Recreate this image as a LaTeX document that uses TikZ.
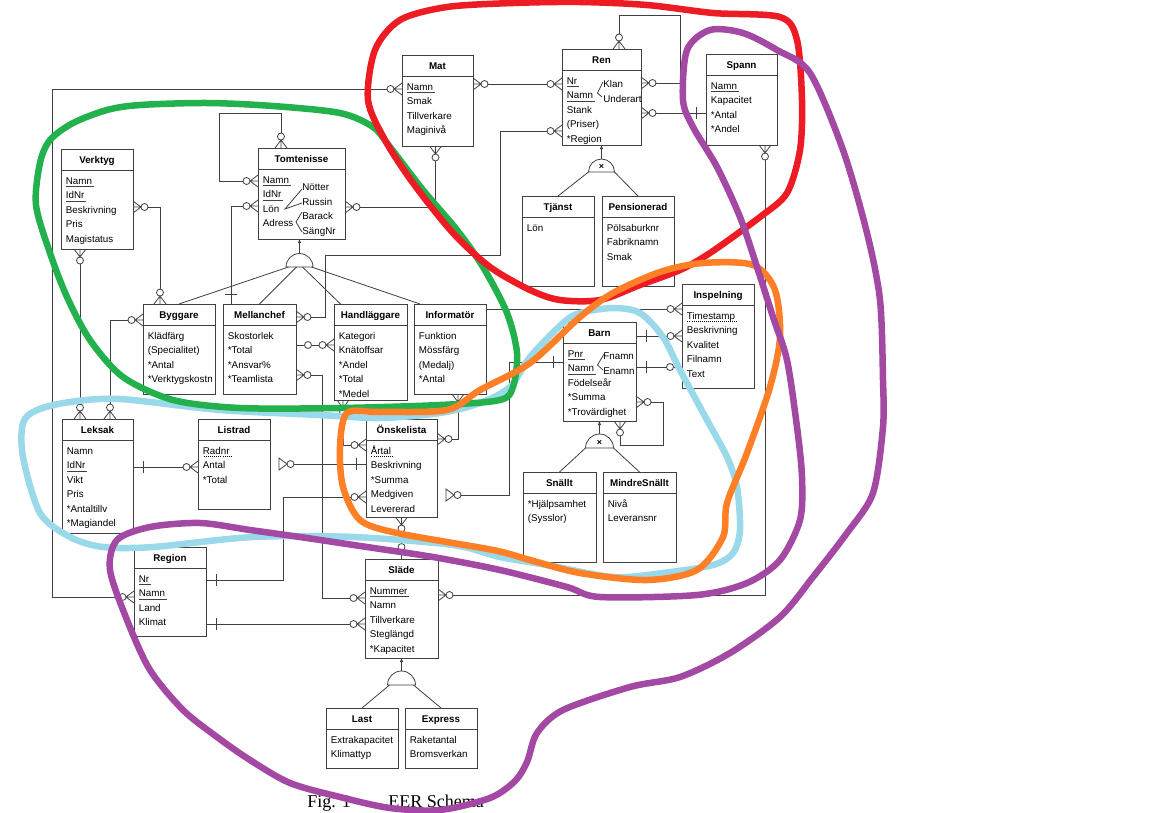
\documentclass[tikz,border=0pt]{standalone}
\usepackage{fontspec}
\setmainfont{Liberation Sans}
\newfontfamily\capfont{Liberation Serif}
\usetikzlibrary{arrows.meta}

\definecolor{lcol}{RGB}{64,64,64}
\definecolor{pred}{RGB}{237,28,36}
\definecolor{pgreen}{RGB}{34,177,76}
\definecolor{pblue}{RGB}{153,217,234}
\definecolor{porange}{RGB}{255,127,39}
\definecolor{ppurple}{RGB}{163,73,164}

\newsavebox\ulbox
\newcommand\ulin[1]{\sbox\ulbox{#1}\rlap{\color{lcol}\rule[-2.6pt]{\dimexpr\wd\ulbox+2pt\relax}{0.7pt}}\usebox\ulbox}
\newcommand\dotul[1]{\sbox\ulbox{#1}\rlap{\raisebox{-2.6pt}{\hbox to \dimexpr\wd\ulbox+3pt\relax{\xleaders\hbox to 2pt{\hss\rule{1pt}{0.6pt}\hss}\hfill}}}\usebox\ulbox}

\newcommand\entity[7]{%
        \node[ebox, minimum width=#4pt, minimum height=#5pt] (#1) at (#2,#3) {};
        \draw[con] ([yshift=-21pt]#1.north west) -- ([yshift=-21pt]#1.north east);
        \node[etitle] (#1-t) at ([yshift=-10.5pt]#1.north) {#6};
        \node[eattr] (#1-a) at ([xshift=4.5pt,yshift=-25pt]#1.north west) {\rule{0pt}{10pt}#7};
}

\pgfdeclarearrow{
  name = many,
  setup code = {
    \pgfarrowssettipend{0pt}
    \pgfarrowssetbackend{-15pt}
    \pgfarrowssetlineend{-15pt}
    \pgfarrowsupperhullpoint{0pt}{6pt}
    \pgfarrowsupperhullpoint{-15pt}{3.5pt}
  },
  drawing code = {
    \pgfpathmoveto{\pgfqpoint{0pt}{6pt}}
    \pgfpathlineto{\pgfqpoint{-8pt}{0pt}}
    \pgfpathlineto{\pgfqpoint{0pt}{-6pt}}
    \pgfpathmoveto{\pgfqpoint{0pt}{0pt}}
    \pgfpathlineto{\pgfqpoint{-8pt}{0pt}}
    \pgfusepathqstroke
    \pgfpathcircle{\pgfqpoint{-11.5pt}{0pt}}{3.5pt}
    \pgfsetfillcolor{white}
    \pgfusepathqfillstroke
  }
}
\pgfdeclarearrow{
  name = one,
  setup code = {
    \pgfarrowssettipend{0pt}
    \pgfarrowssetbackend{-10pt}
    \pgfarrowssetlineend{0pt}
    \pgfarrowsupperhullpoint{0pt}{6pt}
    \pgfarrowsupperhullpoint{-10pt}{6pt}
  },
  drawing code = {
    \pgfpathmoveto{\pgfqpoint{-10pt}{6pt}}
    \pgfpathlineto{\pgfqpoint{-10pt}{-6pt}}
    \pgfusepathqstroke
  }
}
\pgfdeclarearrow{
  name = zero,
  setup code = {
    \pgfarrowssettipend{0pt}
    \pgfarrowssetbackend{-15.5pt}
    \pgfarrowssetlineend{-15.5pt}
    \pgfarrowsupperhullpoint{0pt}{3.5pt}
    \pgfarrowsupperhullpoint{-15.5pt}{3.5pt}
  },
  drawing code = {
    \pgfpathmoveto{\pgfqpoint{0pt}{0pt}}
    \pgfpathlineto{\pgfqpoint{-8.5pt}{0pt}}
    \pgfusepathqstroke
    \pgfpathcircle{\pgfqpoint{-12pt}{0pt}}{3.5pt}
    \pgfsetfillcolor{white}
    \pgfusepathqfillstroke
  }
}
\pgfdeclarearrow{
  name = tri,
  setup code = {
    \pgfarrowssettipend{0pt}
    \pgfarrowssetbackend{-24pt}
    \pgfarrowssetlineend{-24pt}
    \pgfarrowsupperhullpoint{-9pt}{6pt}
    \pgfarrowsupperhullpoint{-24pt}{3.5pt}
  },
  drawing code = {
    \pgfpathmoveto{\pgfqpoint{-9pt}{6pt}}
    \pgfpathlineto{\pgfqpoint{-9pt}{-6pt}}
    \pgfpathlineto{\pgfqpoint{-17pt}{0pt}}
    \pgfpathclose
    \pgfusepathqstroke
    \pgfpathcircle{\pgfqpoint{-20.5pt}{0pt}}{3.5pt}
    \pgfsetfillcolor{white}
    \pgfusepathqfillstroke
  }
}

\begin{document}
\begin{tikzpicture}[x=1pt, y=-1pt, line width=0.8pt, >={Latex[length=4pt,width=3.5pt]},
        ebox/.style={draw=lcol, fill=white, anchor=north west, inner sep=0pt, outer sep=0pt},
        etitle/.style={font=\bfseries\fontsize{9.8}{12}\selectfont, inner sep=0pt, text height=7pt, text depth=0pt},
        eattr/.style={font=\fontsize{9.8}{14.5}\selectfont, anchor=north west, inner sep=0pt, align=left},
        con/.style={draw=lcol},
        isa/.style={draw=lcol, fill=white},
        hl/.style={line width=6.5pt, line cap=round, line join=round}]
        \fill[white] (0,0) rectangle (1152,812);
        \useasboundingbox (0,0) rectangle (1152,812);

        \entity{mat}{402}{55}{71}{91}{Mat}{\ulin{Namn}\\Smak\\Tillverkare\\Maginivå}
        \entity{ren}{562}{49}{79}{96}{Ren}{\ulin{Nr}\\\ulin{Namn}\\Stank\\(Priser)\\*Region}
        \entity{spann}{706}{54}{71}{91}{Spann}{\ulin{Namn}\\Kapacitet\\*Antal\\*Andel}
        \entity{tjanst}{522}{196}{72}{90}{Tjänst}{Lön}
        \entity{pension}{602}{196}{72}{90}{Pensionerad}{Pölsaburknr\\Fabriknamn\\Smak}
        \entity{verktyg}{61}{149}{72}{100}{Verktyg}{\ulin{Namn}\\\ulin{IdNr}\\Beskrivning\\Pris\\Magistatus}
        \entity{tomte}{258}{148}{87}{91}{Tomtenisse}{\ulin{Namn}\\\ulin{IdNr}\\Lön\\Adress}
        \entity{byggare}{143}{304}{72}{90}{Byggare}{Klädfärg\\(Specialitet)\\*Antal\\*Verktygskostn}
        \entity{mellan}{223}{304}{73}{90}{Mellanchef}{Skostorlek\\*Total\\*Ansvar\%\\*Teamlista}
        \entity{handl}{334}{304}{73}{96}{Handläggare}{Kategori\\Knätoffsar\\*Andel\\*Total\\*Medel}
        \entity{inform}{414}{304}{72}{90}{Informatör}{Funktion\\Mössfärg\\(Medalj)\\*Antal}
        \entity{leksak}{62}{419}{71}{114}{Leksak}{Namn\\\ulin{IdNr}\\Vikt\\Pris\\*Antaltillv\\*Magiandel}
        \entity{listrad}{198}{419}{72}{90}{Listrad}{\dotul{Radnr}\\Antal\\*Total}
        \entity{onske}{366}{419}{71}{98}{Önskelista}{\dotul{Årtal}\\Beskrivning\\*Summa\\Medgiven\\Levererad}
        \entity{barn}{563}{322}{73}{99}{Barn}{\ulin{Pnr}\\\ulin{Namn}\\Födelseår\\*Summa\\*Trovärdighet}
        \entity{inspel}{682}{284}{72}{104}{Inspelning}{\dotul{Timestamp}\\Beskrivning\\Kvalitet\\Filnamn\\Text}
        \entity{snallt}{523}{472}{73}{90}{Snällt}{*Hjälpsamhet\\(Sysslor)}
        \entity{mindre}{603}{472}{73}{90}{MindreSnällt}{Nivå\\Leveransnr}
        \entity{region}{134}{547}{72}{89}{Region}{\ulin{Nr}\\\ulin{Namn}\\Land\\Klimat}
        \entity{slade}{365}{559}{73}{99}{Släde}{\ulin{Nummer}\\Namn\\Tillverkare\\Steglängd\\*Kapacitet}
        \entity{last}{326}{708}{72}{60}{Last}{Extrakapacitet\\Klimattyp}
        \entity{express}{405}{708}{72}{60}{Express}{Raketantal\\Bromsverkan}

        \node[eattr] (ren-b) at (603,77.5) {\rule{0pt}{10pt}Klan\\Underart};
        \node[eattr] (tomte-b) at (302,180.5) {\rule{0pt}{10pt}Nötter\\Russin\\Barack\\SängNr};
        \node[eattr] (barn-b) at (603,349.5) {\rule{0pt}{10pt}Fnamn\\Enamn};
        \draw[con] (603,82) -- (597.5,93) -- (602,97);
        \draw[con] (302,189) -- (285,209) -- (302,203);
        \draw[con] (302,212) -- (296,222) -- (302,232);
        \draw[con] (604,354) -- (597.5,365) -- (603,370);

        \coordinate (ren-d) at ([yshift=-27pt]ren.south);
        \coordinate (tomte-d) at ([xshift=-2pt,yshift=-28pt]tomte.south);
        \coordinate (barn-d) at ([yshift=-27pt]barn.south);
        \coordinate (slade-d) at ([yshift=-27pt]slade.south);
        \draw[isa] ([xshift=-13pt]ren-d) arc[start angle=180, end angle=0, radius=13pt] -- cycle;
        \draw[isa] ([xshift=-13.5pt]tomte-d) arc[start angle=180, end angle=0, radius=13.5pt] -- cycle;
        \draw[isa] ([xshift=-14pt]barn-d) arc[start angle=180, end angle=0, radius=14pt] -- cycle;
        \draw[isa] ([xshift=-14pt]slade-d) arc[start angle=180, end angle=0, radius=14pt] -- cycle;
        \node[font=\bfseries\fontsize{9}{9}\selectfont, inner sep=0pt] (ren-x) at ([yshift=5pt]ren-d) {×};
        \node[font=\bfseries\fontsize{9}{9}\selectfont, inner sep=0pt] (barn-x) at ([yshift=5pt]barn-d) {×};
        \draw[con, ->] ([yshift=13pt]ren-d) -- (ren.south);
        \draw[con, ->] ([yshift=13.5pt]tomte-d) -- (tomte-d |- tomte.south);
        \draw[con, ->] ([yshift=14pt]barn-d) -- (barn.south);
        \draw[con, ->] ([yshift=14pt]slade-d) -- (slade.south);
        \draw[con] ([xshift=-13pt]ren-d) -- (tjanst.north);
        \draw[con] ([xshift=13pt]ren-d) -- (pension.north);
        \draw[con] ([xshift=-11pt]tomte-d) -- (byggare.north);
        \draw[con] ([xshift=-3pt]tomte-d) -- (mellan.north);
        \draw[con] ([xshift=3pt]tomte-d) -- ([xshift=-30pt]handl.north);
        \draw[con] ([xshift=12pt]tomte-d) -- ([xshift=-30pt]inform.north);
        \draw[con] ([xshift=-14pt]barn-d) -- (snallt.north);
        \draw[con] ([xshift=14pt]barn-d) -- (mindre.north);
        \draw[con] ([xshift=-12pt]slade-d) -- (last.north);
        \draw[con] ([xshift=12pt]slade-d) -- (express.north);

        \draw[con, many-many] ([yshift=-34pt]mat.north west) -| (52,597) -- ([yshift=-50pt]region.north west);
        \draw[con, many-many] ([yshift=-29pt]mat.north east) -- ([yshift=-35pt]ren.north west);
        \draw[con, many-many] ([yshift=-82pt]ren.north west) -| (500,255) -| (325,317) -- ([yshift=-13pt]mellan.north east);
        \draw[con, many-many] ([xshift=17.5pt]ren.north) |- (680,15) |- ([yshift=-34pt]ren.north east);
        \draw[con, many-one] ([yshift=-64pt]ren.north east) -- ([yshift=-59pt]spann.north west);
        \draw[con, many-many] ([xshift=23.5pt]spann.south) |- ([yshift=-36pt]slade.north east);
        \draw[con, many-many] ([xshift=-20.5pt]tomte.north) |- (219,113) |- ([yshift=-33pt]tomte.north west);
        \draw[con, many-one] ([yshift=-58pt]tomte.north west) -| ([xshift=8pt]mellan.north west);
        \draw[con, many-many] ([yshift=-59pt]tomte.north east) -| ([xshift=-2pt]mat.south);
        \draw[con, many-many] ([yshift=-58pt]verktyg.north east) -| ([xshift=-19pt]byggare.north);
        \draw[con, many-many] ([xshift=-17pt]verktyg.south) -- ([xshift=-17.5pt]leksak.north);
        \draw[con, many-many] ([yshift=-16pt]byggare.north west) -| ([xshift=12.5pt]leksak.north);
        \draw[con, zero-many] ([yshift=-41pt]mellan.north east) -- ([yshift=-41pt]handl.north west);
        \draw[con, many-many] ([yshift=-71pt]mellan.north east) -| (322,598) -- ([yshift=-39pt]slade.north west);
        \draw[con, many-many] ([xshift=-27.5pt]handl.south) |- ([yshift=-26pt]onske.north west);
        \draw[con, many-many] ([xshift=8pt]inform.south) |- ([yshift=-20pt]onske.north east);
        \draw[con, -many] ([yshift=-5pt]inform.north east) -- ([yshift=-25pt]inspel.north west);
        \draw[con, one-many] ([yshift=-48pt]leksak.north east) -- ([yshift=-48pt]listrad.north west);
        \draw[con, tri-one] ([yshift=-45pt]listrad.north east) -- ([yshift=-45pt]onske.north west);
        \draw[con, tri-one] ([yshift=-76pt]onske.north east) -| (509,362) -- ([yshift=-40pt]barn.north west);
        \draw[con, many-one] ([yshift=-78pt]onske.north west) -| (283,580) -- ([yshift=-33pt]region.north east);
        \draw[con, many-zero] (onske.south) -- (slade.north);
        \draw[con, one-many] ([yshift=-77pt]region.north east) -- ([yshift=-65pt]slade.north west);
        \draw[con, one-many] ([yshift=-14pt]barn.north east) -- ([yshift=-52pt]inspel.north west);
        \draw[con, one-zero] ([yshift=-45pt]barn.north east) -- ([yshift=-83pt]inspel.north west);
        \draw[con, many-many] ([yshift=-80pt]barn.north east) -| (663,445) -| ([xshift=20.5pt]barn.south);

        \node[font=\capfont\fontsize{18}{18}\selectfont, anchor=base west, inner sep=0pt] (fig) at (307,807) {Fig. 1};
        \node[font=\capfont\fontsize{18}{18}\selectfont, anchor=base west, inner sep=0pt] (ttl) at (388,807) {EER Schema};

        \draw[hl, pblue] plot[smooth cycle] coordinates {(23,423) (37,410) (70,402) (120,399) (220,410) (320,415) (380,418) (440,413) (480,403) (510,387) (530,357) (563,323) (580,313) (613,308) (640,313) (663,337) (680,370) (707,420) (727,457) (737,487) (740,530) (733,553) (713,565) (663,573) (613,577) (547,565) (500,557) (453,545) (353,537) (253,537) (153,547) (103,547) (70,537) (40,513) (23,457)};
        \draw[hl, pgreen] plot[smooth cycle] coordinates {(40,163) (50,140) (73,123) (107,110) (140,105) (207,103) (273,106) (340,113) (373,127) (390,147) (423,190) (457,230) (483,267) (507,313) (517,353) (513,387) (500,400) (440,405) (340,408) (240,408) (173,400) (123,377) (90,340) (67,297) (50,253) (36,205)};
        \draw[hl, pred] plot[smooth cycle] coordinates {(368,100) (375,50) (400,20) (447,7) (513,3) (580,2) (647,5) (713,13) (780,17) (797,40) (802,100) (800,150) (787,193) (760,217) (710,253) (680,270) (640,285) (600,300) (560,300) (530,290) (490,267) (453,233) (413,183) (385,140)};
        \draw[hl, porange] plot[smooth cycle] coordinates {(347,413) (340,447) (343,487) (360,520) (397,533) (493,550) (530,560) (580,573) (647,580) (697,570) (723,537) (727,503) (747,453) (770,387) (780,337) (775,290) (753,265) (703,263) (660,272) (613,293) (580,317) (530,363) (480,390) (447,410) (380,412)};
        \draw[hl, ppurple] plot[smooth cycle] coordinates {(693,127) (683,100) (687,50) (710,30) (743,33) (777,50) (810,73) (843,150) (867,233) (880,300) (883,380) (883,427) (873,493) (847,533) (813,577) (780,617) (730,653) (680,677) (630,687) (563,710) (537,733) (527,762) (515,781) (490,798) (440,810) (390,808) (340,797) (290,783) (250,760) (217,737) (183,710) (150,670) (127,620) (110,570) (117,540) (150,527) (200,523) (250,530) (300,537) (367,547) (433,557) (500,570) (567,587) (600,597) (697,595) (747,583) (780,560) (800,520) (802,477) (797,427) (787,360) (773,317) (757,267) (740,217) (717,167)};
\end{tikzpicture}
\end{document}
